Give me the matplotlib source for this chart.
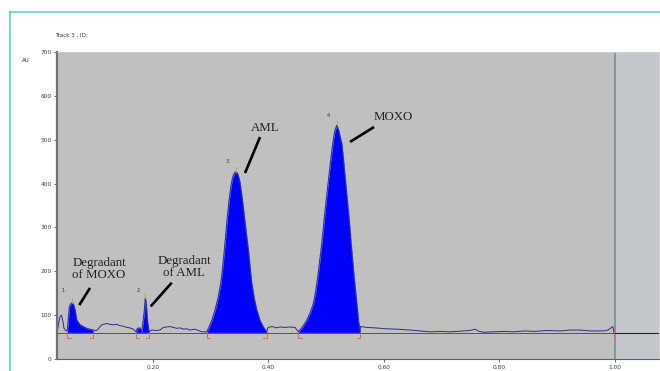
import matplotlib.pyplot as plt
from matplotlib.lines import Line2D

# chromatogram trace (Rf, AU)
rf = [0.0338, 0.0364, 0.0390, 0.0416, 0.0442, 0.0459, 0.0494, 0.0516,
      0.0551, 0.0572, 0.0585, 0.0598, 0.0611, 0.0624, 0.0650, 0.0679, 0.0737,
      0.0853, 0.0967,
      0.1026, 0.1113, 0.1199, 0.1257, 0.1314, 0.1373, 0.1430, 0.1487, 0.1546,
      0.1603, 0.1660, 0.1707, 0.1730, 0.1776, 0.1806, 0.1846, 0.1868, 0.1884,
      0.1903, 0.1932, 0.1979, 0.2054, 0.2123, 0.2180, 0.2239, 0.2296, 0.2354,
      0.2412, 0.2470, 0.2527, 0.2586, 0.2643, 0.2730, 0.2846,
      # peak 3
      0.2932, 0.2972, 0.3025, 0.3076, 0.3125, 0.3175, 0.3206, 0.3237, 0.3263,
      0.3289, 0.3320, 0.3354, 0.3380, 0.3410, 0.3440, 0.3470, 0.3490, 0.3510,
      0.3547, 0.3584, 0.3618, 0.3653, 0.3682, 0.3712, 0.3755, 0.3799, 0.3855,
      0.3913, 0.3972,
      0.3995, 0.4064, 0.4134, 0.4203, 0.4289, 0.4376, 0.4463,
      # peak 4
      0.4520, 0.4595, 0.4666, 0.4725, 0.4780, 0.4820, 0.4856, 0.4891, 0.4926,
      0.4955, 0.4983, 0.5015, 0.5047, 0.5082, 0.5116, 0.5150, 0.5185, 0.5220,
      0.5250, 0.5272, 0.5300, 0.5329, 0.5357, 0.5386, 0.5410, 0.5433, 0.5459,
      0.5485, 0.5510, 0.5532, 0.5546, 0.5560, 0.5589,
      0.5598, 0.5705, 0.5849, 0.6023, 0.6225, 0.6456, 0.6629, 0.6802,
      0.6976, 0.7149, 0.7380, 0.7496, 0.7582, 0.7652, 0.7726, 0.7929, 0.8102,
      0.8241, 0.8449, 0.8622, 0.8825, 0.9055, 0.9229, 0.9402, 0.9575, 0.9806,
      0.9887, 0.9969, 0.9991]
au = [60, 80, 96, 100, 85, 70, 64, 66,
      119, 125, 127, 128, 127, 124, 112, 89, 78,
      70, 66,
      65, 78, 81, 79, 78, 79, 76, 75, 72,
      71, 68, 62, 70, 71, 62, 105, 140, 125,
      89, 62, 66, 65, 66, 72, 73, 74, 72,
      70, 71, 68, 69, 66, 68, 62,
      62, 73, 90, 112, 138, 173, 208, 249, 287,
      324, 364, 397, 414, 424, 427, 422, 413, 401,
      366, 324, 286, 249, 210, 173, 138, 112, 88,
      73, 62,
      72, 74, 71, 73, 72, 73, 72,
      62, 74, 89, 106, 127, 155, 188, 226, 264,
      302, 340, 378, 416, 456, 492, 520, 533, 521,
      503, 492, 456, 416, 378, 340, 302, 264, 226,
      188, 155, 127, 108, 89, 62,
      74, 72, 71, 69, 68, 66, 64, 62,
      63, 62, 64, 65, 68, 63, 61, 62, 63,
      62, 64, 63, 65, 64, 66, 66, 64, 64,
      66, 74, 60]

# integrated peak windows
peak_start = [0.0516, 0.1707, 0.2932, 0.4520]
peak_end = [0.0967, 0.1932, 0.3972, 0.5589]
peak_top_rf = [0.0598, 0.1868, 0.3440, 0.5185]
peak_top_au = [128, 140, 427, 533]
peak_no = ['1', '2', '3', '4']
peak_no_rf = [0.0447, 0.1747, 0.3279, 0.5040]
peak_no_au = [156, 157, 451, 555]

# annotations: text, text position, pointer line
labels = ['Degradant\nof MOXO', 'Degradant\nof AML', 'AML', 'MOXO']
label_rf = [0.1066, 0.2539, 0.3943, 0.6161]
label_au = [205, 210, 527, 552]
ptr_rf = [(0.0910, 0.0724), (0.2326, 0.1962), (0.3856, 0.3596), (0.5832, 0.5416)]
ptr_au = [(162, 123), (174, 120), (506, 424), (529, 495)]

baseline = 60

fig = plt.figure(figsize=(6.6, 3.71), dpi=100)
ax = fig.add_axes([57/660, 12/371, 602/660, 307/371])
ax.set_facecolor('#C0C0C0')
ax.set_xlim(0.0338, 1.077)
ax.set_ylim(0, 700)

ax.axvspan(1.0, 1.077, color='#C3C7CB', lw=0)
ax.axvline(1.0, color='#7D848C', lw=1.1)
ax.plot([0.0338, 1.0], [baseline, baseline], color='#555555', lw=0.7)
ax.plot([1.0, 1.077], [baseline, baseline], color='#202020', lw=0.8)

# filled peaks
for lo, hi in zip(peak_start, peak_end):
    xs = [x for x in rf if lo <= x <= hi]
    ys = [y for x, y in zip(rf, au) if lo <= x <= hi]
    ax.fill_between(xs, ys, baseline, color='#0000FF', lw=0.6, edgecolor='#6A6AFF')

ax.plot(rf, au, color='#2B2F88', lw=0.7)

# integration limit marks
for lo, hi in zip(peak_start, peak_end):
    ax.plot([lo, lo, lo + 0.006], [baseline, 47, 47], color='#E0603A', lw=0.6)
    ax.plot([hi, hi, hi - 0.006], [baseline, 47, 47], color='#E0603A', lw=0.6)
ax.plot([0.9991, 0.9991], [baseline + 8, 48], color='#E0603A', lw=0.6)

for x, y in zip(peak_top_rf, peak_top_au):
    ax.plot([x, x], [y, y + 10], color='#E8903A', lw=0.6)

for t, x, y in zip(peak_no, peak_no_rf, peak_no_au):
    ax.text(x, y, t, fontsize=3.5, color='#303030', ha='center', va='center')

for t, x, y in zip(labels, label_rf, label_au):
    ax.text(x, y, t, fontsize=9.3, family='Liberation Serif', color='#222222',
            ha='center', va='center', linespacing=0.95)
for xs, ys in zip(ptr_rf, ptr_au):
    ax.plot(xs, ys, color='black', lw=1.9, solid_capstyle='butt')

ax.set_xticks([0.2, 0.4, 0.6, 0.8, 1.0])
ax.set_xticklabels(['0.20', '0.40', '0.60', '0.80', '1.00'])
ax.set_yticks(range(0, 701, 100))
ax.tick_params(labelsize=4.2, labelcolor='#404040', color='#505050',
               length=2.5, width=0.6, pad=1.5)
for s in ['top', 'right']:
    ax.spines[s].set_color('#D0D0D0')
    ax.spines[s].set_linewidth(0.6)
ax.spines['left'].set_color('#707070')
ax.spines['left'].set_linewidth(1.6)
ax.spines['bottom'].set_color('#606060')
ax.spines['bottom'].set_linewidth(0.8)

fig.text(55/660, 1 - 35/371, 'Track 3 , ID:', fontsize=4, color='#303030', va='center')
fig.text(22/660, 1 - 61/371, 'AU', fontsize=4, color='#303030', va='center')

# teal frame
fig.add_artist(Line2D([10/660, 1.0], [1 - 12/371, 1 - 12/371], color='#5FD8C6', lw=1.2))
fig.add_artist(Line2D([10/660, 10/660], [0, 1 - 12/371], color='#5FD8C6', lw=1.2))

plt.savefig('out.png', dpi=100)
